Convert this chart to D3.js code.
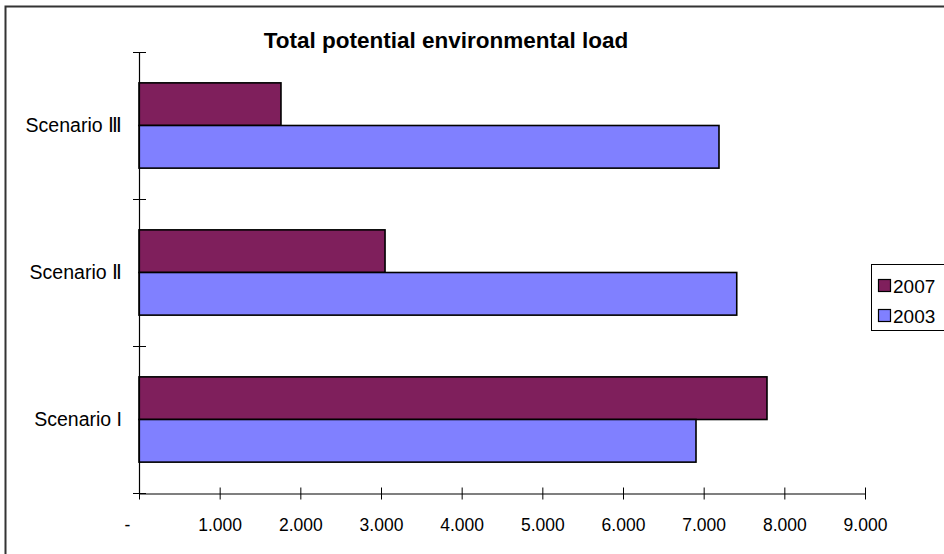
<!DOCTYPE html>
<html><head><meta charset="utf-8">
<script src="https://cdn.jsdelivr.net/npm/d3@7"></script>
<style>body{margin:0;background:#fff}svg{display:block}</style>
</head><body>
<svg id="c" width="944" height="554"></svg>
<script>
const categories = ["Scenario I", "Scenario Ⅱ", "Scenario Ⅲ"];
const seriesNames = ["2007", "2003"];
const values2007 = [7785, 3050, 1760];
const values2003 = [6905, 7410, 7190];
const xTicks = [0, 1000, 2000, 3000, 4000, 5000, 6000, 7000, 8000, 9000];
const xTickLabels = ["-", "1.000", "2.000", "3.000", "4.000", "5.000", "6.000", "7.000", "8.000", "9.000"];
const colors = ["#7F1F5C", "#8080FF"];
const title = "Total potential environmental load";

const svg = d3.select("#c");
const font = "Liberation Sans, Arial, sans-serif";

// outer border
svg.append("rect").attr("x", 5.5).attr("y", 6.5).attr("width", 960).attr("height", 560)
  .attr("fill", "#fff").attr("stroke", "#333").attr("stroke-width", 2);

const x = d3.scaleLinear().domain([0, 9000]).range([139, 865]);
const y = d3.scaleBand().domain(categories.slice().reverse()).range([52, 493]).paddingInner(0.42).paddingOuter(0.21);
const ySub = d3.scaleBand().domain(seriesNames).range([0, y.bandwidth()]);

const data = categories.map((c, i) => ({cat: c, vals: [values2007[i], values2003[i]]}));

const g = svg.append("g");
data.forEach(d => {
  d.vals.forEach((v, j) => {
    g.append("rect")
      .attr("x", x(0))
      .attr("y", y(d.cat) + ySub(seriesNames[j]))
      .attr("width", x(v) - x(0))
      .attr("height", ySub.bandwidth())
      .attr("fill", colors[j]).attr("stroke", "#000").attr("stroke-width", 1.6);
  });
});

// x axis
const xAxis = d3.axisBottom(x).tickValues(xTicks).tickFormat((d, i) => xTickLabels[i]).tickSizeInner(0).tickSizeOuter(0).tickPadding(0);
const xa = svg.append("g").attr("transform", "translate(0,493.5)").call(xAxis);
xa.select(".domain").attr("stroke", "#000").attr("stroke-width", 1.2);
xa.selectAll(".tick line").attr("y1", -6).attr("y2", 6).attr("stroke", "#000");
xa.selectAll(".tick text").attr("y", 37).attr("dy", 0).attr("font-size", 17.5).attr("font-family", font).attr("fill", "#000");
xa.selectAll(".tick text").filter((d) => d === 0).attr("dx", -12);

// y axis
const ya = svg.append("g");
ya.append("line").attr("x1", 139.5).attr("x2", 139.5).attr("y1", 52).attr("y2", 493.5).attr("stroke", "#000").attr("stroke-width", 1.2);
const yBounds = d3.range(4).map(i => 52 + i * y.step());
yBounds.forEach(p => ya.append("line").attr("x1", 133).attr("x2", 146).attr("y1", p + 0.5).attr("y2", p + 0.5).attr("stroke", "#000"));
categories.forEach(c => {
  ya.append("text").attr("x", 122).attr("y", y(c) + y.bandwidth() / 2).attr("dy", "0.35em")
    .attr("text-anchor", "end").attr("font-size", 19.5).attr("font-family", font).text(c);
});

// title
svg.append("text").attr("x", 446).attr("y", 48).attr("text-anchor", "middle")
  .attr("font-size", 22.5).attr("font-weight", "bold").attr("font-family", font).text(title);

// legend
const lg = svg.append("g");
lg.append("rect").attr("x", 871.5).attr("y", 264.5).attr("width", 100).attr("height", 66)
  .attr("fill", "#fff").attr("stroke", "#000").attr("stroke-width", 1);
seriesNames.forEach((s, i) => {
  lg.append("rect").attr("x", 878.5).attr("y", 279.5 + i * 30).attr("width", 12).attr("height", 12)
    .attr("fill", colors[i]).attr("stroke", "#000").attr("stroke-width", 1.2);
  lg.append("text").attr("x", 893).attr("y", 286 + i * 30).attr("dy", "0.35em")
    .attr("font-size", 19).attr("font-family", font).text(s);
});
</script>
</body></html>
